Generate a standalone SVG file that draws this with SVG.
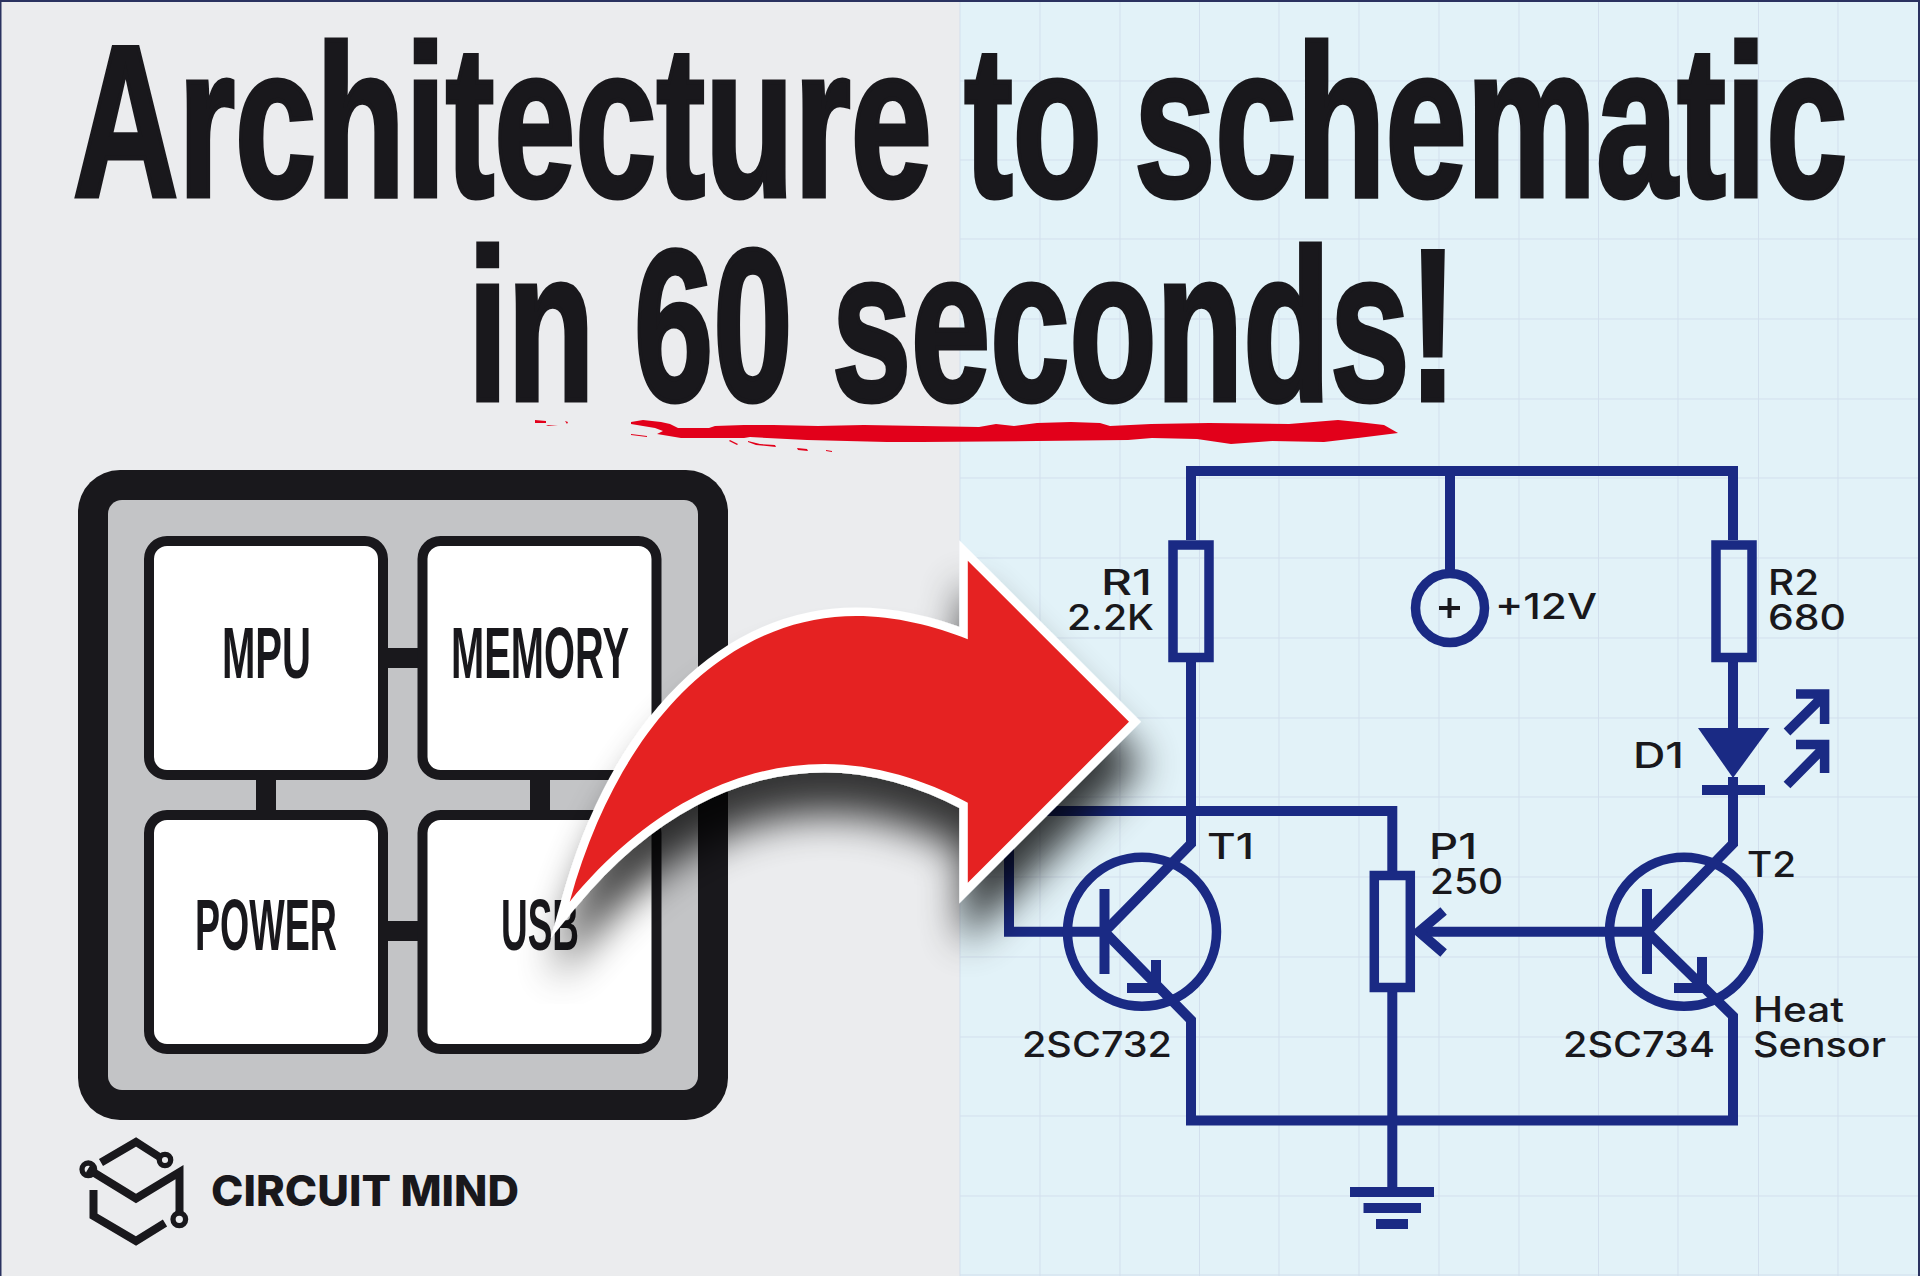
<svg xmlns="http://www.w3.org/2000/svg" width="1920" height="1276" viewBox="0 0 1920 1276">
<defs>
<filter id="sh" x="-20%" y="-20%" width="140%" height="150%"><feGaussianBlur in="SourceAlpha" stdDeviation="20"/><feOffset dx="3" dy="42"/><feComponentTransfer><feFuncA type="linear" slope="0.78"/></feComponentTransfer><feMerge><feMergeNode/><feMergeNode in="SourceGraphic"/></feMerge></filter>
</defs>
<style>
.title{font-family:"Liberation Sans",sans-serif;font-weight:700;font-size:216px;fill:#19181c;stroke:#19181c;stroke-width:5px}
.blk{font-family:"Liberation Sans",sans-serif;font-weight:700;font-size:73px;fill:#19181c}
.lab{font-family:"Inter","Liberation Sans",sans-serif;font-weight:500;font-size:35px;fill:#19181c}
.w{fill:none;stroke:#1a2a84;stroke-width:10;stroke-miterlimit:10}
.t{fill:none;stroke:#1a2a84;stroke-width:9.5}
.b{fill:#fff;stroke:#19181c;stroke-width:10}
.k{fill:#19181c}
.g{stroke:#d2dfed;stroke-width:1;fill:none}
.l{fill:none;stroke:#19181c;stroke-width:8;stroke-miterlimit:10}
.r{fill:none;stroke:#19181c;stroke-width:5.3}
</style>
<rect width="960" height="1276" fill="#ebecee"/>
<rect x="960" width="960" height="1276" fill="#e2f2f8"/>
<path class="g" d="M960 0V1276M1040 0V1276M1120 0V1276M1199.500 0V1276M1279 0V1276M1359 0V1276M1439 0V1276M1519 0V1276M1598.500 0V1276M1678 0V1276M1758.500 0V1276M1838 0V1276M960 81H1920M960 160H1920M960 239H1920M960 319H1920M960 399H1920M960 478H1920M960 558H1920M960 638H1920M960 718H1920M960 797H1920M960 877H1920M960 957H1920M960 1037H1920M960 1116H1920M960 1196H1920M960 1275H1920"/>
<path d="M0 1H1920M.5 0V1276M1919 0V1276" fill="none" stroke="#2a3260" stroke-width="2"/>

<g id="title">
<text class="title" transform="translate(73 196) scale(.675 1)" word-spacing="-12">Architecture to schematic</text>
<text class="title" transform="translate(468 400) scale(.659 1)">in 60 seconds!</text>
<path id="underline" fill="#e2001a" d="M631 422L643 420L661 422L670 424L678 428L709 428L715 426L744 425L773 425L818 426L864 425L922 426L979 427L996 424L1014 426L1037 423L1071 422L1100 423L1110 426L1151 424L1209 423L1289 424L1338 420L1358 422L1384 425L1398 433L1358 438L1324 442L1272 441L1231 444L1197 439L1152 438L1128 440L1037 441L922 442L887 442L807 440L750 437L744 438L681 438L657 434L663 431L655 428L631 424ZM631 434L647 436L647 437L631 435ZM730 440L738 444L737 445L729 441ZM748 441L760 444L775 445L776 447L756 445L748 442ZM797 448L807 449L808 451L798 450ZM826 450L832 451L832 452L826 451ZM535 420L546 421L546 423L535 423ZM565 421L568 422L567 424ZM546 425L558 426L548 426Z"/>
</g>

<g id="chip">
<rect x="78" y="470" width="650" height="650" rx="42" class="k"/>
<rect x="108" y="500" width="590" height="590" rx="14" fill="#c3c4c6"/>
</g>
<g id="bus" class="k">
<rect x="380" y="648" width="45" height="20"/><rect x="380" y="921" width="45" height="20"/><rect x="256" y="770" width="20" height="50"/><rect x="530" y="770" width="20" height="50"/>
</g>
<g id="mpu"><rect class="b" x="149" y="541" width="234" height="234" rx="18"/><text class="blk" x="222" y="678" textLength="89" lengthAdjust="spacingAndGlyphs">MPU</text></g>
<g id="memory"><rect class="b" x="422.500" y="541" width="234" height="234" rx="18"/><text class="blk" x="451" y="678" textLength="178" lengthAdjust="spacingAndGlyphs">MEMORY</text></g>
<g id="power"><rect class="b" x="149" y="815" width="234" height="234" rx="18"/><text class="blk" x="195" y="950" textLength="142" lengthAdjust="spacingAndGlyphs">POWER</text></g>
<g id="usb"><rect class="b" x="422.500" y="815" width="234" height="234" rx="18"/><text class="blk" x="501" y="950" textLength="78" lengthAdjust="spacingAndGlyphs">USB</text></g>

<g id="logo">
<path class="l" d="M101 1162.500L136 1142L159.500 1157M88 1169L136 1198.500L179.500 1172V1214M93.500 1190V1216L136 1241L165 1223"/>
<circle class="r" cx="165" cy="1160" r="5.700"/><circle class="r" cx="88.300" cy="1169.300" r="6.300"/><circle class="r" cx="179.300" cy="1219.300" r="6.300"/>
<text x="211" y="1206" font-family="Inter,'Liberation Sans',sans-serif" font-weight="800" font-size="43" fill="#19181c" textLength="308" lengthAdjust="spacingAndGlyphs">CIRCUIT MIND</text>
</g>

<g id="connectors">
<path class="w" d="M1191 657V843.700L1104.500 931.700L1191 1020V1120.500H1392.300M1191 540V471H1733V540M1450 471V574M1733 657V728M1733 777V843.700L1647 931.700L1733 1016V1120.500H1392.300M1392.300 992V1187M1733 785V795"/>
<path class="w" d="M1104.500 931.700H1009V811H1392.300V871M1647 931.700H1420"/>
</g>
<g id="R1"><rect class="t" x="1173" y="545" width="36" height="112.500"/><text class="lab" x="1101" y="595" textLength="51" lengthAdjust="spacingAndGlyphs">R1</text><text class="lab" x="1067" y="630" textLength="87" lengthAdjust="spacingAndGlyphs">2.2K</text></g>
<g id="R2"><rect class="t" x="1716" y="545" width="36" height="112.500"/><text class="lab" x="1768" y="595" textLength="51" lengthAdjust="spacingAndGlyphs">R2</text><text class="lab" x="1768" y="630" textLength="78" lengthAdjust="spacingAndGlyphs">680</text></g>
<g id="V12"><circle class="t" cx="1450" cy="608" r="34.500"/><path d="M1439 608H1460M1449.500 598V618" stroke="#19181c" stroke-width="4" fill="none"/><text class="lab" x="1495" y="619" textLength="102" lengthAdjust="spacingAndGlyphs">+12V</text></g>
<g id="D1"><path d="M1698 728H1769.500L1733 778Z" fill="#1a2a84"/><rect x="1702" y="785" width="63" height="10" fill="#1a2a84"/><path class="t" d="M1787 732L1824.500 695M1796 694H1824.600V724M1787 785L1824.500 747M1796 744.500H1824.600V773"/><text class="lab" x="1633" y="768" textLength="51" lengthAdjust="spacingAndGlyphs">D1</text></g>
<g id="T1"><circle class="t" cx="1142" cy="931.700" r="74.500"/><path class="w" d="M1104.500 889V974M1156 960V988H1127"/><text class="lab" x="1207" y="859" textLength="47" lengthAdjust="spacingAndGlyphs">T1</text><text class="lab" x="1022" y="1057" textLength="150" lengthAdjust="spacingAndGlyphs">2SC732</text></g>
<g id="P1"><rect class="t" x="1374.300" y="875.500" width="36" height="112"/><path class="w" d="M1443.600 911L1419 931.700L1443.600 953"/><text class="lab" x="1429" y="859" textLength="48" lengthAdjust="spacingAndGlyphs">P1</text><text class="lab" x="1430" y="894" textLength="73" lengthAdjust="spacingAndGlyphs">250</text></g>
<g id="T2"><circle class="t" cx="1684" cy="931.700" r="74.500"/><path class="w" d="M1647 889V974M1702 957V988H1674"/><text class="lab" x="1747" y="877" textLength="49" lengthAdjust="spacingAndGlyphs">T2</text><text class="lab" x="1563" y="1057" textLength="152" lengthAdjust="spacingAndGlyphs">2SC734</text><text class="lab" x="1753" y="1022" textLength="91" lengthAdjust="spacingAndGlyphs">Heat</text><text class="lab" x="1753" y="1057" textLength="133" lengthAdjust="spacingAndGlyphs">Sensor</text></g>
<g id="GND" fill="#1a2a84"><rect x="1350" y="1187" width="84" height="10"/><rect x="1363.500" y="1203" width="57.500" height="10"/><rect x="1376" y="1219" width="32" height="10"/></g>

<g id="arrow" filter="url(#sh)">
<path d="M569.700 901.700C620 720 730 616 856 616C895 616 935 626 967.800 639.300V560.700L1129 721.700L967.800 882.700V802.700C925 780 875 764 824.700 764C735 764 645 810 569.700 901.700Z" fill="#e52421" stroke="#fff" stroke-width="17" stroke-miterlimit="8" paint-order="stroke"/>
</g>
</svg>
